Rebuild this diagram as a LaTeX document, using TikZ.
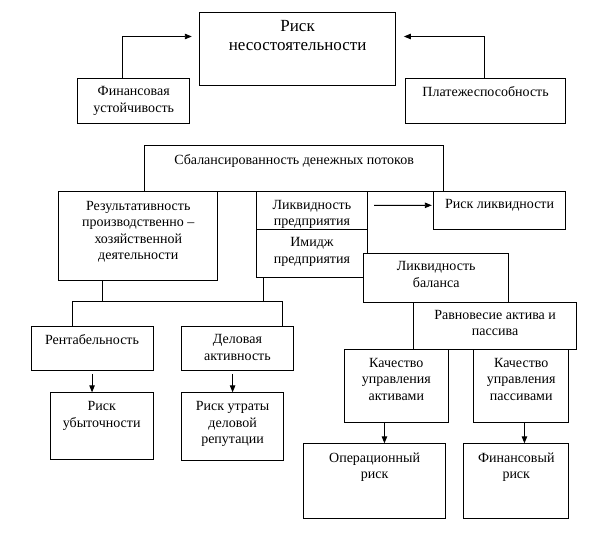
\documentclass[tikz,border=0pt]{standalone}
\usepackage{fontspec}
\setmainfont{Liberation Serif}
\usetikzlibrary{arrows.meta}
\begin{document}
\begin{tikzpicture}[x=1pt,y=-1pt,
  box/.style={draw, fill=white, line width=0.9pt, inner sep=0pt, anchor=north west},
  txt/.style={anchor=north, inner sep=0pt, align=center, font=\fontsize{14}{16.5}\selectfont},
  bigtxt/.style={anchor=north, inner sep=0pt, align=center, font=\fontsize{17}{18.5}\selectfont},
  arr/.style={line width=0.9pt, -{Triangle[length=7pt,width=5.5pt]}},
  ln/.style={line width=0.9pt}]
\useasboundingbox (0,0) rectangle (593,534);

% top part
\node[box, minimum width=195.7pt, minimum height=73.3pt] (risk) at (199.3,11.7) {};
\node[bigtxt] (trisk) at ([yshift=-8.5pt]risk.north) {Риск\\несостоятельности};
\node[box, minimum width=112pt, minimum height=45pt] (fin) at (77.3,78.3) {};
\node[txt] (tfin) at ([yshift=-8.3pt]fin.north) {Финансовая\\устойчивость};
\node[box, minimum width=159.7pt, minimum height=45.3pt] (plat) at (405.3,78) {};
\node[txt] (tplat) at ([yshift=-8.5pt]plat.north) {Платежеспособность};

\draw[arr, shorten >=7.5pt] ([xshift=-11pt]fin.north) |- ([yshift=12.3pt]risk.west);
\draw[arr, shorten >=8pt] ([xshift=-1pt]plat.north) |- ([yshift=12.3pt]risk.east);

% middle part
\node[box, minimum width=299.3pt, minimum height=45.7pt] (bal) at (144,145) {};
\node[txt] (tbal) at ([yshift=-9.5pt]bal.north) {Сбалансированность денежных потоков};
\node[box, minimum width=159pt, minimum height=89.3pt] (res) at (58.3,190.7) {};
\node[txt] (tres) at ([yshift=-10pt]res.north) {Результативность\\производственно –\\хозяйственной\\деятельности};
\node[box, minimum width=111.6pt, minimum height=38.6pt] (likp) at (255.7,190.7) {};
\node[txt] (tlikp) at ([yshift=-9pt]likp.north) {Ликвидность\\предприятия};
\node[box, minimum width=111.6pt, minimum height=48pt] (imj) at (255.7,229.3) {};
\node[txt] (timj) at ([yshift=-8.3pt]imj.north) {Имидж\\предприятия};
\node[box, minimum width=131.7pt, minimum height=38.3pt] (rliq) at (433.3,190.7) {};
\node[txt] (trliq) at ([yshift=-8.5pt]rliq.north) {Риск ликвидности};
\node[box, minimum width=145pt, minimum height=48.2pt] (lbal) at (363.3,253.3) {};
\node[txt] (tlbal) at ([yshift=-8.3pt]lbal.north) {Ликвидность\\баланса};
\node[box, minimum width=162.7pt, minimum height=47.8pt] (ravn) at (413.3,301.5) {};
\node[txt] (travn) at ([yshift=-8.3pt]ravn.north) {Равновесие актива и\\пассива};

\draw[arr, shorten <=6pt, shorten >=1.5pt] ([yshift=5pt]likp.east) -- ([yshift=5pt]rliq.west);

% left tree
\node[box, minimum width=121.8pt, minimum height=44pt] (rent) at (30.7,326) {};
\node[txt] (trent) at ([yshift=-8.3pt]rent.north) {Рентабельность};
\node[box, minimum width=112pt, minimum height=44pt] (del) at (181,326) {};
\node[txt] (tdel) at ([yshift=-8.3pt]del.north) {Деловая\\активность};
\node[box, minimum width=102.5pt, minimum height=66.7pt] (ruby) at (50,392.3) {};
\node[txt] (truby) at ([yshift=-9pt]ruby.north) {Риск\\убыточности};
\node[box, minimum width=102.3pt, minimum height=67.7pt] (rutr) at (181,392.3) {};
\node[txt] (trutr) at ([yshift=-9pt]rutr.north) {Риск утраты\\деловой\\репутации};

\coordinate (tL) at (72.3,301.5);
\coordinate (tR) at (282.7,301.5);
\draw[ln] ([xshift=-35.5pt]res.south) -- ([xshift=-35.5pt]res.south |- tL);
\draw[ln] ([xshift=-48.8pt]imj.south) -- ([xshift=-48.8pt]imj.south |- tL);
\draw[ln] (rent.north -| tL) -- (tL) -- (tR) -- (del.north -| tR);

\draw[arr, shorten <=3pt] (rent.south) -- (rent.south |- ruby.north);
\draw[arr, shorten <=3pt] (rutr.north |- del.south) -- (rutr.north);

% right tree
\node[box, minimum width=104.8pt, minimum height=72.2pt] (kact) at (343.5,349.3) {};
\node[txt] (tkact) at ([yshift=-8.8pt]kact.north) {Качество\\управления\\активами};
\node[box, minimum width=95pt, minimum height=72.2pt] (kpas) at (473.3,349.3) {};
\node[txt] (tkpas) at ([yshift=-8.8pt]kpas.north) {Качество\\управления\\пассивами};
\node[box, minimum width=141.7pt, minimum height=75pt] (oper) at (303.3,443.3) {};
\node[txt] (toper) at ([yshift=-9pt]oper.north) {Операционный\\риск};
\node[box, minimum width=105pt, minimum height=75pt] (finr) at (463.3,443.3) {};
\node[txt] (tfinr) at ([yshift=-9pt]finr.north) {Финансовый\\риск};

\draw[arr] ([xshift=-11.9pt]kact.south) -- ([xshift=-11.9pt]kact.south |- oper.north);
\draw[arr] ([xshift=3.2pt]kpas.south) -- ([xshift=3.2pt]kpas.south |- finr.north);
\end{tikzpicture}
\end{document}
